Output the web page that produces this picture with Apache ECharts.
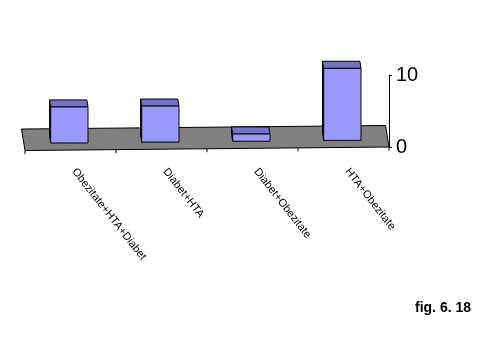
<!DOCTYPE html>
<html>
<head>
<meta charset="utf-8">
<script src="https://cdn.jsdelivr.net/npm/echarts@6/dist/echarts.min.js"></script>
<style>
  html, body { margin: 0; padding: 0; background: #ffffff; }
  #chart { width: 486px; height: 344px; }
</style>
</head>
<body>
<div id="chart"></div>
<script>
// Combination categories and counts
const categories = ['Obezitate+HTA+Diabet', 'Diabet+HTA', 'Diabet+Obezitate', 'HTA+Obezitate'];
const counts = [5, 5, 1, 10];
const valueAxisMin = 0;
const valueAxisMax = 10;
const valueAxisStep = 10;
const figureCaption = 'fig. 6. 18';

// Pseudo-3D projection settings
const SLANT = 0.0097;          // floor front edge drops this much per px towards the left
const DEPTH = [-3.5, -21.5];   // floor depth vector, front edge to back edge
const BAR_DEPTH = [0.33, 0.66];// bar occupies this slice of the floor depth
const BAR_WIDTH = 0.41;        // fraction of the category band
const FRONT = '#9999ff';
const TOP = '#7373c3';
const SIDE = '#8585dc';
const FLOOR = '#808080';
const FONT = '"Liberation Sans", Arial, sans-serif';

const chart = echarts.init(document.getElementById('chart'), null, { renderer: 'canvas' });

function frontY(cs, x, y) {
  return y + (cs.x + cs.width - x) * SLANT;
}

function renderFloor(params, api) {
  const cs = params.coordSys;
  const base = api.coord([0, 0]);
  const band = api.size([1, 0])[0];
  const left = cs.x, right = cs.x + cs.width;
  const yl = frontY(cs, left, base[1]);
  const yr = frontY(cs, right, base[1]);
  const children = [{
    type: 'polygon',
    shape: { points: [[left, yl], [right, yr], [right + DEPTH[0], yr + DEPTH[1]], [left + DEPTH[0], yl + DEPTH[1]]] },
    style: { fill: FLOOR, stroke: '#000', lineWidth: 1 }
  }];
  for (let i = 0; i <= categories.length; i++) {
    const x = left + i * band;
    const y = frontY(cs, x, base[1]);
    children.push({
      type: 'line',
      shape: { x1: x, y1: y, x2: x, y2: y + 3.5 },
      style: { stroke: '#000', lineWidth: 1 }
    });
  }
  return { type: 'group', children };
}

function renderBar(params, api) {
  const cs = params.coordSys;
  const idx = api.value(0);
  const v = api.value(1);
  const base = api.coord([idx, 0]);
  const top = api.coord([idx, v]);
  const band = api.size([1, 0])[0];
  const w = band * BAR_WIDTH;
  const drop = (cs.x + cs.width - base[0]) * SLANT;
  const fx = base[0] - w / 2 + DEPTH[0] * BAR_DEPTH[0];
  const fb = base[1] + drop + DEPTH[1] * BAR_DEPTH[0];
  const ft = top[1] + drop + DEPTH[1] * BAR_DEPTH[0];
  const dx = DEPTH[0] * (BAR_DEPTH[1] - BAR_DEPTH[0]);
  const dy = DEPTH[1] * (BAR_DEPTH[1] - BAR_DEPTH[0]);
  const line = { stroke: '#000', lineWidth: 1, lineJoin: 'miter' };
  return {
    type: 'group',
    children: [
      { // left side face
        type: 'polygon',
        shape: { points: [[fx, fb], [fx, ft], [fx + dx, ft + dy], [fx + dx, fb + dy]] },
        style: Object.assign({ fill: SIDE }, line)
      },
      { // top face
        type: 'polygon',
        shape: { points: [[fx, ft], [fx + w, ft], [fx + w + dx, ft + dy], [fx + dx, ft + dy]] },
        style: Object.assign({ fill: TOP }, line)
      },
      { // front face
        type: 'rect',
        shape: { x: fx, y: ft, width: w, height: fb - ft },
        style: Object.assign({ fill: FRONT }, line)
      }
    ]
  };
}

chart.setOption({
  animation: false,
  backgroundColor: '#ffffff',
  grid: { left: 25, right: 97, top: 75, bottom: 197, containLabel: false },
  xAxis: {
    type: 'category',
    data: categories,
    axisLine: { show: false },
    axisTick: { show: false },
    axisLabel: {
      interval: 0,
      rotate: -52,
      margin: 18,
      padding: [0, 0, 0, 6],
      color: '#000',
      fontFamily: FONT,
      fontSize: 11
    }
  },
  yAxis: {
    type: 'value',
    position: 'right',
    min: valueAxisMin,
    max: valueAxisMax,
    interval: valueAxisStep,
    splitLine: { show: false },
    axisLine: { show: true, lineStyle: { color: '#000', width: 1 } },
    axisTick: { show: true, length: 3, lineStyle: { color: '#000', width: 1 } },
    axisLabel: { margin: 7, color: '#000', fontFamily: FONT, fontSize: 20 }
  },
  graphic: [{
    type: 'text',
    left: 415,
    top: 301,
    style: { text: figureCaption, font: 'bold 14px ' + FONT, fill: '#000' }
  }],
  series: [
    {
      type: 'custom',
      name: 'floor',
      z: 1,
      clip: false,
      silent: true,
      renderItem: renderFloor,
      data: [[0, 0]]
    },
    {
      type: 'custom',
      name: 'counts',
      z: 3,
      clip: false,
      renderItem: renderBar,
      encode: { x: 0, y: 1 },
      data: counts.map((v, i) => [i, v])
    }
  ]
});
</script>
</body>
</html>
